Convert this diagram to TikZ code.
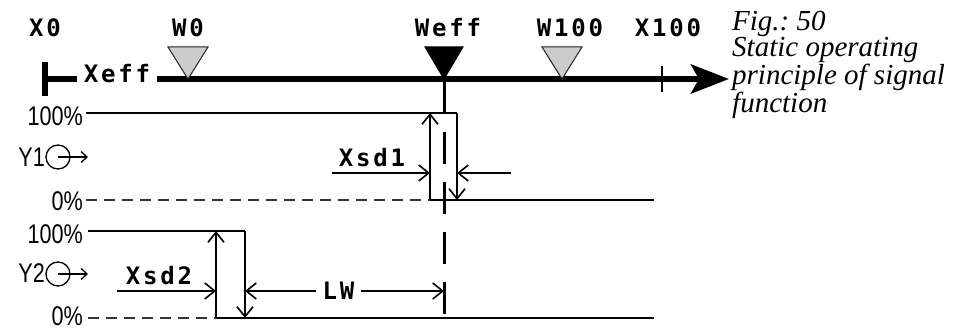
\documentclass[tikz,border=0pt]{standalone}
\usepackage{fontspec}
\setmainfont{Liberation Serif}
\newfontfamily\lcdfont[LetterSpace=12]{DejaVu Sans Mono}
\newfontfamily\dinfont[FakeStretch=0.8]{Liberation Sans}
\usepackage{tikz}
\usetikzlibrary{arrows.meta, positioning, calc}
\usepackage{xcolor}
\definecolor{markfill}{HTML}{CCCCCC}
\definecolor{markstr}{HTML}{222222}
\definecolor{zerostr}{HTML}{333333}
\tikzset{
  lcd/.style     ={font=\lcdfont\bfseries\fontsize{24}{26}\selectfont, inner sep=0pt, anchor=base},
  pct/.style     ={font=\dinfont\fontsize{27}{29}\selectfont, inner sep=0pt, anchor=base east},
  capt/.style    ={font=\itshape\fontsize{29}{25}\selectfont, inner sep=0pt, anchor=north west, align=left},
  axisline/.style={line width=6pt},
  tickline/.style={line width=1.4pt},
  wmark/.style   ={draw=markstr, fill=markfill, line width=1pt, line join=miter},
  weffmark/.style={draw=black, fill=black, line width=1pt},
  sig/.style     ={line width=2pt},
  zero/.style    ={line width=1.5pt, draw=zerostr, dash pattern=on 11pt off 7pt},
  stem/.style    ={line width=3pt},
  dim/.style     ={line width=1.3pt},
  barb/.tip      ={Straight Barb[length=10pt, width=16pt, line width=1.6pt]},
  flow/.style    ={-{Stealth[length=38pt, width=29pt, inset=8pt]}, line width=6pt},
}

\begin{document}
\begin{tikzpicture}[x=1pt, y=-1pt]
  \useasboundingbox (0,0) rectangle (954,331);

  % setpoint axis
  \coordinate (x0) at (45,79);
  \coordinate (xend) at (729,79);
  \coordinate (tick) at (662,79);
  \coordinate (w0) at (188,79);
  \coordinate (weff) at (444,79);
  \coordinate (w100) at (562,79);
  \node[lcd, inner xsep=7pt] (xeff) at (117,83) {Xeff};
  \draw[axisline] (x0) ++(0,-17) -- ++(0,34);
  \draw[axisline] (x0) -- (x0 -| xeff.west);
  \draw[flow] (xend -| xeff.east) -- (xend);
  \draw[tickline] (tick) ++(0,-13) -- ++(0,26);
  \draw[wmark] (w0) -- ++(-20,-32) -- ++(40,0) -- cycle;
  \draw[wmark] (w100) -- ++(-20,-32) -- ++(40,0) -- cycle;
  \draw[weffmark] (weff) -- ++(-19,-32) -- ++(38,0) -- cycle;
  \node[lcd] (lx0) at (45,37) {X0};
  \node[lcd] (lw0) at (188,37) {W0};
  \node[lcd] (lweff) at (448,37) {Weff};
  \node[lcd] (lw100) at (570,37) {W100};
  \node[lcd] (lx100) at (668,37) {X100};
  \node[capt] (cap) at (732,11) {Fig.:~50\\Static operating\\principle of signal\\function};

  % output Y1
  \coordinate (on1) at (86,113);
  \coordinate (off1) at (457,113);
  \coordinate (offlow1) at (457,200);
  \coordinate (onlow1) at (430,200);
  \coordinate (end1) at (654,200);
  \coordinate (zero1) at (86,200);
  \draw[sig] (on1) -- (off1);
  \draw[sig, -barb] (off1) -- (offlow1);
  \draw[sig, -barb] (onlow1) -- (onlow1 |- off1);
  \draw[sig] (onlow1) -- (end1);
  \draw[zero] (zero1) -- (onlow1);
  \coordinate (sd1a) at (332,173);
  \coordinate (sd1b) at (511,173);
  \draw[dim, -barb] (sd1a) -- (sd1a -| onlow1);
  \draw[dim, -barb] (sd1b) -- (sd1b -| offlow1);
  \node[lcd] (xsd1) at (372,167) {Xsd1};
  \node[pct] (h1) at (83,126) {100\%};
  \node[pct] (l1) at (83,211) {0\%};
  \node[pct] (y1) at (45,167) {Y1};
  \draw[dim] (58,157) circle (12);
  \draw[dim, -{Straight Barb[length=6pt, width=11pt]}] (58,157) -- (88,157);

  % output Y2
  \coordinate (on2) at (88,231);
  \coordinate (off2) at (245,231);
  \coordinate (offlow2) at (245,318);
  \coordinate (onlow2) at (216,318);
  \coordinate (end2) at (654,318);
  \coordinate (zero2) at (88,318);
  \draw[sig] (on2) -- (off2);
  \draw[sig, -barb] (off2) -- (offlow2);
  \draw[sig, -barb] (onlow2) -- (onlow2 |- off2);
  \draw[sig] (onlow2) -- (end2);
  \draw[zero] (zero2) -- (onlow2);
  \coordinate (sd2a) at (117,291);
  \draw[dim, -barb] (sd2a) -- (sd2a -| onlow2);
  \node[lcd] (xsd2) at (159,285) {Xsd2};
  \coordinate (lwa) at (245,291);
  \coordinate (lwb) at (444,291);
  \draw[dim, barb-barb] (lwa) -- (lwb) node[lcd, anchor=center, pos=0.47, fill=white, inner xsep=7pt] (lw) {LW};
  \node[pct] (h2) at (83,244) {100\%};
  \node[pct] (l2) at (83,326) {0\%};
  \node[pct] (y2) at (45,283) {Y2};
  \draw[dim] (58,274) circle (12);
  \draw[dim, -{Straight Barb[length=6pt, width=11pt]}] (58,274) -- (88,274);

  % Weff line
  \draw[stem] (weff) -- (444,113);
  \draw[stem, dash pattern=on 32pt off 18pt] (444,132) -- (444,318);
\end{tikzpicture}
\end{document}
